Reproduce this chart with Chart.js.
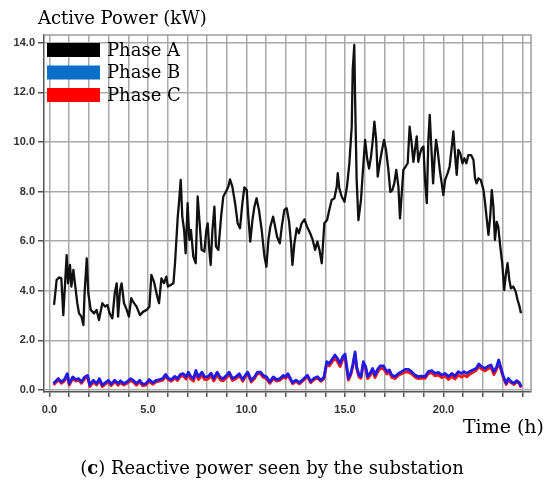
<!DOCTYPE html>
<html>
<head>
<meta charset="utf-8">
<script src="https://cdn.jsdelivr.net/npm/chart.js@4.4.0/dist/chart.umd.min.js"></script>
<style>
  html, body { margin: 0; padding: 0; background: #fff; }
  #wrap { width: 550px; height: 485px; }
</style>
</head>
<body>
<div id="wrap"><canvas id="powerChart" width="550" height="485"></canvas></div>
<script>
// Axis ticks
const hourTicks = [0, 1, 2, 3, 4, 5, 6, 7, 8, 9, 10, 11, 12, 13, 14, 15, 16, 17, 18, 19, 20, 21, 22, 23, 24];
const labeledHours = [0, 5, 10, 15, 20];
const powerTicks = [0, 2, 4, 6, 8, 10, 12, 14];

const seriesNames = ["Phase A", "Phase B", "Phase C"];

// Phase A (hours, kW)
const timeA = [
    0.23, 0.36, 0.48, 0.6, 0.7, 0.87, 0.94, 1.04, 1.11, 1.21,
    1.29, 1.41, 1.5, 1.62, 1.72, 1.78, 1.89, 1.97, 2.09, 2.26,
    2.39, 2.51, 2.68, 2.82, 2.94, 3.05, 3.19, 3.31, 3.41, 3.48,
    3.58, 3.66, 3.78, 3.92, 4.03, 4.15, 4.29, 4.42, 4.59, 4.76,
    4.93, 5.07, 5.17, 5.3, 5.47, 5.56, 5.68, 5.81, 5.93, 6.01,
    6.15, 6.29, 6.37, 6.51, 6.57, 6.66, 6.74, 6.83, 6.91, 7.01,
    7.1, 7.18, 7.3, 7.42, 7.52, 7.62, 7.72, 7.86, 7.96, 8.03,
    8.11, 8.18, 8.27, 8.37, 8.45, 8.57, 8.71, 8.82, 8.96, 9.08,
    9.16, 9.28, 9.42, 9.55, 9.67, 9.79, 9.89, 10.01, 10.09, 10.19,
    10.3, 10.4, 10.51, 10.63, 10.77, 10.91, 11.01, 11.11, 11.21, 11.35,
    11.45, 11.55, 11.69, 11.79, 11.92, 12.04, 12.16, 12.26, 12.33, 12.43,
    12.55, 12.66, 12.8, 12.94, 13.07, 13.23, 13.36, 13.48, 13.6, 13.7,
    13.82, 13.95, 14.09, 14.2, 14.32, 14.46, 14.58, 14.63, 14.71, 14.83,
    14.97, 15.1, 15.22, 15.34, 15.39, 15.47, 15.51, 15.59, 15.68, 15.81,
    15.91, 16.02, 16.12, 16.22, 16.32, 16.41, 16.49, 16.58, 16.66, 16.76,
    16.86, 16.98, 17.08, 17.2, 17.3, 17.4, 17.5, 17.6, 17.71, 17.79,
    17.88, 17.96, 18.08, 18.18, 18.28, 18.38, 18.47, 18.55, 18.64, 18.72,
    18.81, 18.89, 18.98, 19.06, 19.15, 19.23, 19.3, 19.37, 19.47, 19.55,
    19.62, 19.7, 19.81, 19.91, 19.99, 20.08, 20.21, 20.31, 20.42, 20.5,
    20.58, 20.67, 20.75, 20.85, 20.96, 21.06, 21.16, 21.26, 21.4, 21.52,
    21.6, 21.68, 21.77, 21.89, 22.03, 22.11, 22.2, 22.28, 22.37, 22.45,
    22.53, 22.61, 22.7, 22.78, 22.88, 22.98, 23.08, 23.17, 23.25, 23.34,
    23.42, 23.54, 23.66, 23.76, 23.86, 23.93
];
const phaseA = [
    3.43, 4.43, 4.54, 4.5, 3.02, 5.44, 4.3, 5.04, 4.17, 4.84,
    4.3, 3.5, 3.09, 2.96, 2.62, 3.9, 5.31, 3.9, 3.23, 3.09,
    3.23, 2.82, 3.5, 3.36, 3.43, 3.09, 2.89, 3.9, 4.3, 2.96,
    4.03, 4.3, 3.5, 3.23, 2.96, 3.7, 3.5, 3.36, 3.02, 3.16,
    3.23, 3.36, 4.64, 4.37, 3.76, 3.5, 4.5, 4.3, 4.57, 4.17,
    4.23, 4.3, 5.11, 6.99, 7.53, 8.47, 6.99, 6.45, 5.51, 7.53,
    6.05, 6.45, 5.38, 5.11, 7.8, 6.72, 5.65, 5.58, 6.45, 6.72,
    5.65, 5.04, 6.45, 7.39, 5.78, 5.65, 6.99, 7.8, 8.0, 8.2,
    8.49, 8.2, 7.53, 6.72, 6.52, 7.53, 8.17, 8.06, 6.99, 5.98,
    6.85, 7.39, 7.73, 7.26, 6.45, 5.38, 4.97, 6.05, 6.59, 6.99,
    6.59, 6.18, 5.91, 6.59, 7.26, 7.33, 6.79, 5.91, 5.04, 5.91,
    6.52, 6.32, 6.72, 6.88, 6.59, 6.32, 6.05, 5.65, 5.98, 5.65,
    5.11, 6.72, 6.85, 7.26, 7.66, 7.73, 8.2, 8.74, 8.13, 7.8,
    7.59, 8.2, 9.14, 10.62, 12.9, 13.91, 11.83, 8.47, 6.85, 7.66,
    8.87, 10.08, 9.34, 8.93, 9.4, 10.08, 10.82, 10.08, 8.6, 9.14,
    9.6, 10.08, 9.68, 8.87, 7.99, 8.06, 8.33, 8.87, 8.2, 6.92,
    7.93, 8.87, 9.01, 9.14, 10.62, 9.95, 9.2, 9.68, 10.22, 9.2,
    9.54, 9.74, 9.81, 8.47, 7.53, 10.08, 11.09, 9.95, 8.33, 9.41,
    10.08, 9.68, 8.87, 8.33, 7.86, 8.47, 8.74, 9.01, 9.81, 10.42,
    9.54, 8.67, 9.68, 9.54, 9.14, 9.34, 9.14, 9.47, 9.47, 9.27,
    8.53, 8.33, 8.53, 8.47, 8.06, 7.53, 6.85, 6.25, 7.0, 8.06,
    7.39, 6.05, 6.78, 6.58, 5.78, 5.11, 4.03, 4.7, 5.11, 4.44,
    4.1, 4.17, 3.97, 3.63, 3.36, 3.09
];

// Phase B and Phase C share the same time stamps
const timeBC = [
    0.2, 0.45, 0.6, 0.75, 0.9, 1.0, 1.18, 1.32, 1.48, 1.62,
    1.79, 1.93, 2.05, 2.22, 2.39, 2.53, 2.68, 2.82, 2.99, 3.13,
    3.31, 3.48, 3.6, 3.77, 3.94, 4.12, 4.25, 4.41, 4.58, 4.72,
    4.89, 5.06, 5.24, 5.41, 5.58, 5.75, 5.89, 6.05, 6.18, 6.36,
    6.49, 6.65, 6.79, 6.93, 7.05, 7.17, 7.31, 7.43, 7.56, 7.74,
    7.87, 8.03, 8.2, 8.34, 8.51, 8.68, 8.82, 8.99, 9.12, 9.29,
    9.46, 9.63, 9.81, 9.93, 10.06, 10.24, 10.41, 10.55, 10.72, 10.84,
    11.01, 11.18, 11.36, 11.53, 11.7, 11.87, 11.99, 12.1, 12.34, 12.51,
    12.68, 12.88, 13.09, 13.26, 13.43, 13.6, 13.77, 13.93, 14.07, 14.2,
    14.32, 14.49, 14.61, 14.75, 14.88, 15.0, 15.17, 15.29, 15.39, 15.51,
    15.59, 15.71, 15.81, 15.93, 16.05, 16.15, 16.27, 16.4, 16.52, 16.64,
    16.78, 16.95, 17.12, 17.25, 17.37, 17.54, 17.71, 17.88, 18.05, 18.22,
    18.38, 18.55, 18.72, 18.89, 19.06, 19.23, 19.4, 19.57, 19.74, 19.91,
    20.08, 20.25, 20.42, 20.58, 20.75, 20.92, 21.04, 21.18, 21.31, 21.48,
    21.65, 21.79, 21.94, 22.11, 22.28, 22.41, 22.56, 22.7, 22.8, 22.92,
    23.04, 23.18, 23.29, 23.43, 23.58, 23.72, 23.85, 23.94
];
const phaseB = [
    0.26, 0.46, 0.33, 0.42, 0.66, 0.26, 0.53, 0.42, 0.46, 0.33,
    0.53, 0.59, 0.2, 0.39, 0.26, 0.46, 0.2, 0.29, 0.39, 0.24,
    0.39, 0.26, 0.37, 0.26, 0.33, 0.46, 0.39, 0.26, 0.39, 0.24,
    0.26, 0.42, 0.29, 0.39, 0.42, 0.46, 0.63, 0.46, 0.42, 0.55,
    0.46, 0.63, 0.66, 0.53, 0.72, 0.55, 0.46, 0.79, 0.53, 0.72,
    0.53, 0.53, 0.68, 0.46, 0.72, 0.5, 0.46, 0.59, 0.72, 0.46,
    0.53, 0.66, 0.42, 0.59, 0.72, 0.39, 0.53, 0.72, 0.72, 0.59,
    0.53, 0.33, 0.53, 0.42, 0.46, 0.59, 0.53, 0.66, 0.3, 0.4,
    0.3, 0.43, 0.6, 0.34, 0.47, 0.54, 0.4, 0.51, 1.14, 1.07,
    1.21, 1.41, 1.28, 1.07, 1.34, 1.45, 0.47, 0.67, 1.01, 1.54,
    0.94, 0.6, 0.54, 1.14, 0.94, 0.54, 0.67, 0.87, 0.6, 0.81,
    0.97, 0.97, 0.74, 0.81, 0.6, 0.54, 0.67, 0.74, 0.83, 0.83,
    0.74, 0.6, 0.54, 0.56, 0.54, 0.74, 0.78, 0.67, 0.71, 0.6,
    0.67, 0.54, 0.67, 0.56, 0.74, 0.67, 0.74, 0.67, 0.74, 0.81,
    0.87, 1.05, 0.94, 0.87, 0.97, 1.01, 0.74, 0.94, 1.21, 0.87,
    0.54, 0.27, 0.47, 0.34, 0.27, 0.38, 0.3, 0.13
];
const phaseC = [
    0.2, 0.4, 0.27, 0.36, 0.58, 0.2, 0.46, 0.36, 0.4, 0.27,
    0.46, 0.52, 0.14, 0.32, 0.2, 0.38, 0.14, 0.23, 0.32, 0.18,
    0.32, 0.19, 0.3, 0.2, 0.27, 0.38, 0.32, 0.19, 0.33, 0.17,
    0.2, 0.35, 0.23, 0.33, 0.36, 0.4, 0.55, 0.4, 0.35, 0.48,
    0.38, 0.55, 0.57, 0.44, 0.62, 0.44, 0.36, 0.68, 0.42, 0.6,
    0.42, 0.43, 0.57, 0.36, 0.61, 0.4, 0.37, 0.5, 0.63, 0.38,
    0.45, 0.58, 0.35, 0.52, 0.65, 0.32, 0.46, 0.66, 0.65, 0.52,
    0.46, 0.27, 0.46, 0.36, 0.4, 0.52, 0.47, 0.6, 0.25, 0.35,
    0.25, 0.38, 0.54, 0.29, 0.42, 0.48, 0.35, 0.45, 1.05, 0.97,
    1.1, 1.28, 1.15, 0.95, 1.22, 1.34, 0.4, 0.6, 0.93, 1.45,
    0.86, 0.52, 0.47, 1.05, 0.85, 0.46, 0.58, 0.77, 0.5, 0.7,
    0.86, 0.87, 0.64, 0.71, 0.51, 0.46, 0.59, 0.66, 0.72, 0.72,
    0.65, 0.52, 0.46, 0.48, 0.47, 0.66, 0.7, 0.57, 0.6, 0.5,
    0.56, 0.42, 0.55, 0.44, 0.6, 0.52, 0.6, 0.53, 0.62, 0.7,
    0.78, 0.96, 0.84, 0.77, 0.86, 0.9, 0.62, 0.84, 1.12, 0.8,
    0.48, 0.22, 0.42, 0.29, 0.22, 0.33, 0.25, 0.1
];

// colours: lines and the (slightly different) legend swatches
const lineColors = ["#111111", "#1f1ae6", "#ff1414"];
const legendColors = ["#000000", "#0a6fc8", "#ff0000"];

const serif = '"DejaVu Serif", serif';

function toPoints(xs, ys) {
    return xs.map((x, i) => ({ x: x, y: ys[i] }));
}

// texts, legend and the top/right frame
const decorations = {
    id: 'decorations',
    beforeDatasetsDraw(chart) {
        const { ctx, chartArea: a } = chart;
        ctx.save();
        ctx.strokeStyle = '#9c9c9c';
        ctx.lineWidth = 1.5;
        ctx.beginPath();
        ctx.moveTo(a.left, a.top);
        ctx.lineTo(a.right, a.top);
        ctx.lineTo(a.right, a.bottom);
        ctx.stroke();
        ctx.restore();
    },
    afterDraw(chart) {
        const ctx = chart.ctx;
        ctx.save();
        ctx.fillStyle = '#000';
        ctx.textBaseline = 'alphabetic';

        // axis titles
        ctx.textAlign = 'left';
        ctx.font = '18px ' + serif;
        ctx.fillText('Active Power (kW)', 38, 24);
        ctx.textAlign = 'right';
        ctx.font = '19px ' + serif;
        ctx.fillText('Time (h)', 544, 433);

        // caption with bold letter
        const parts = [
            ['(', '18px ' + serif],
            ['c', 'bold 18px ' + serif],
            [') Reactive power seen by the substation', '18px ' + serif]
        ];
        let total = 0;
        parts.forEach(p => { ctx.font = p[1]; total += ctx.measureText(p[0]).width; });
        let cx = 272 - total / 2;
        ctx.textAlign = 'left';
        parts.forEach(p => {
            ctx.font = p[1];
            ctx.fillText(p[0], cx, 474);
            cx += ctx.measureText(p[0]).width;
        });

        // legend inside the plot
        chart.data.datasets.forEach((ds, i) => {
            const top = 43 + i * 22.5;
            ctx.fillStyle = legendColors[i];
            ctx.fillRect(47, top, 53, 14);
            ctx.fillStyle = '#000';
            ctx.font = '18px ' + serif;
            ctx.textBaseline = 'middle';
            ctx.fillText(ds.label, 107, top + 8);
        });
        ctx.restore();
    }
};

const tickFont = { family: '"Liberation Sans", Arial, sans-serif', weight: 'bold', size: 11 };

new Chart(document.getElementById('powerChart').getContext('2d'), {
    type: 'line',
    data: {
        datasets: [
            { label: seriesNames[0], data: toPoints(timeA, phaseA), borderColor: lineColors[0], borderWidth: 2.3, order: 0 },
            { label: seriesNames[1], data: toPoints(timeBC, phaseB), borderColor: lineColors[1], borderWidth: 2.8, order: 1 },
            { label: seriesNames[2], data: toPoints(timeBC, phaseC), borderColor: lineColors[2], borderWidth: 2.8, order: 2 }
        ]
    },
    options: {
        responsive: false,
        animation: false,
        layout: { padding: { left: 0, top: 35, right: 19, bottom: 71 } },
        elements: {
            point: { radius: 0 },
            line: { tension: 0, fill: false, borderJoinStyle: 'round' }
        },
        plugins: {
            legend: { display: false },
            tooltip: { enabled: false }
        },
        scales: {
            x: {
                type: 'linear',
                min: -0.28,
                max: 24.44,
                afterBuildTicks: s => { s.ticks = hourTicks.map(v => ({ value: v })); },
                afterFit: s => { s.height = 22; },
                grid: { color: '#a9a9a9', lineWidth: 1.5, tickLength: 5, tickColor: '#555' },
                border: { display: true, color: '#555', width: 1.5 },
                ticks: {
                    autoSkip: false,
                    maxRotation: 0,
                    padding: 6,
                    color: '#333',
                    font: tickFont,
                    callback: v => (labeledHours.includes(v) ? v.toFixed(1) : '')
                }
            },
            y: {
                min: -0.08,
                max: 14.31,
                afterBuildTicks: s => { s.ticks = powerTicks.map(v => ({ value: v })); },
                afterFit: s => { s.width = 44; },
                grid: { color: '#a9a9a9', lineWidth: 1.5, tickLength: 6, tickColor: '#555' },
                border: { display: true, color: '#555', width: 1.5 },
                ticks: {
                    padding: 3,
                    color: '#333',
                    font: tickFont,
                    callback: v => v.toFixed(1)
                }
            }
        }
    },
    plugins: [decorations]
});
</script>
</body>
</html>
